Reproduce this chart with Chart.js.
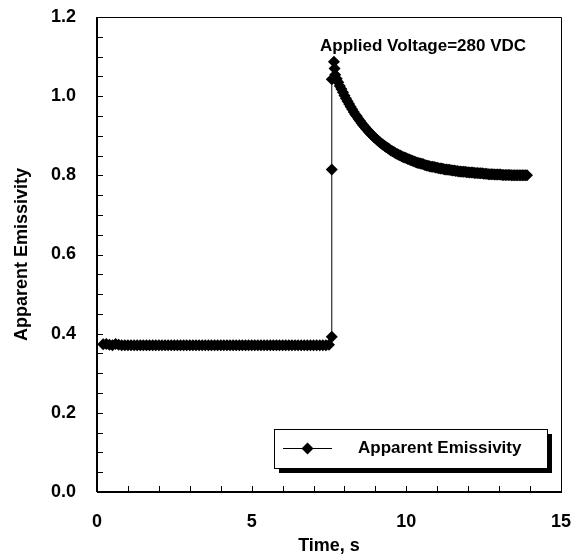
<!DOCTYPE html>
<html>
<head>
<meta charset="utf-8">
<script src="https://cdn.jsdelivr.net/npm/chart.js@4/dist/chart.umd.min.js"></script>
<style>
html,body{margin:0;padding:0;background:#fff;}
#wrap{width:578px;height:556px;position:relative;}
</style>
</head>
<body>
<div id="wrap"><canvas id="c" width="578" height="556"></canvas></div>
<script>
// ---- data ----
const seriesLabel = "Apparent Emissivity";
const annotationText = "Applied Voltage=280 VDC";
const xTitle = "Time, s";
const yTitle = "Apparent Emissivity";
const xTickLabels = ["0", "5", "10", "15"];
const yTickLabels = ["0.0", "0.2", "0.4", "0.6", "0.8", "1.0", "1.2"];

// flat baseline part (0.1 s sampling)
const timeFlat = [
  0.2,0.3,0.4,0.5,0.6,0.7,0.8,0.9,1.0,1.1,1.2,1.3,1.4,1.5,1.6,1.7,1.8,1.9,2.0,
  2.1,2.2,2.3,2.4,2.5,2.6,2.7,2.8,2.9,3.0,3.1,3.2,3.3,3.4,3.5,3.6,3.7,3.8,3.9,4.0,
  4.1,4.2,4.3,4.4,4.5,4.6,4.7,4.8,4.9,5.0,5.1,5.2,5.3,5.4,5.5,5.6,5.7,5.8,5.9,6.0,
  6.1,6.2,6.3,6.4,6.5,6.6,6.7,6.8,6.9,7.0,7.1,7.2,7.3,7.4,7.5
];
const emisFlat = [
  0.373,0.374,0.372,0.371,0.374,0.372,0.371,0.371,0.371,0.371,0.371,0.371,0.371,0.371,0.371,0.371,0.371,0.371,0.371,
  0.371,0.371,0.371,0.371,0.371,0.371,0.371,0.371,0.371,0.371,0.371,0.371,0.371,0.371,0.371,0.371,0.371,0.371,0.371,0.371,
  0.371,0.371,0.371,0.371,0.371,0.371,0.371,0.371,0.371,0.371,0.371,0.371,0.371,0.371,0.371,0.371,0.371,0.371,0.371,0.371,
  0.371,0.371,0.371,0.371,0.371,0.371,0.371,0.371,0.371,0.371,0.371,0.371,0.371,0.371,0.372
];
// step jump when the voltage is applied
const timeJump = [7.59, 7.59, 7.59, 7.66, 7.68];
const emisJump = [0.392, 0.815, 1.043, 1.087, 1.070];
// relaxation part (0.05 s sampling)
const timeDecay = [
  7.70,7.75,7.80,7.85,7.90,7.95,8.00,8.05,8.10,8.15,8.20,8.25,8.30,8.35,8.40,8.45,8.50,8.55,8.60,8.65,
  8.70,8.75,8.80,8.85,8.90,8.95,9.00,9.05,9.10,9.15,9.20,9.25,9.30,9.35,9.40,9.45,9.50,9.55,9.60,9.65,
  9.70,9.75,9.80,9.85,9.90,9.95,10.00,10.05,10.10,10.15,10.20,10.25,10.30,10.35,10.40,10.45,10.50,10.55,10.60,10.65,
  10.70,10.75,10.80,10.85,10.90,10.95,11.00,11.05,11.10,11.15,11.20,11.25,11.30,11.35,11.40,11.45,11.50,11.55,11.60,11.65,
  11.70,11.75,11.80,11.85,11.90,11.95,12.00,12.05,12.10,12.15,12.20,12.25,12.30,12.35,12.40,12.45,12.50,12.55,12.60,12.65,
  12.70,12.75,12.80,12.85,12.90,12.95,13.00,13.05,13.10,13.15,13.20,13.25,13.30,13.35,13.40,13.45,13.50,13.55,13.60,13.65,
  13.70,13.75,13.80,13.85,13.90
];
const emisDecay = [
  1.054,1.044,1.035,1.026,1.018,1.010,1.002,0.994,0.987,0.980,0.973,0.967,0.960,0.954,0.949,0.943,0.938,0.932,0.927,0.923,
  0.918,0.914,0.909,0.905,0.901,0.897,0.894,0.890,0.887,0.883,0.880,0.877,0.874,0.871,0.869,0.866,0.863,0.861,0.859,0.856,
  0.854,0.852,0.850,0.848,0.846,0.845,0.843,0.841,0.840,0.838,0.837,0.835,0.834,0.832,0.831,0.830,0.829,0.828,0.826,0.825,
  0.824,0.823,0.822,0.822,0.821,0.820,0.819,0.818,0.817,0.817,0.816,0.815,0.815,0.814,0.814,0.813,0.812,0.812,0.811,0.811,
  0.810,0.810,0.809,0.809,0.809,0.808,0.808,0.807,0.807,0.807,0.806,0.806,0.806,0.805,0.805,0.805,0.804,0.804,0.804,0.803,
  0.803,0.803,0.803,0.802,0.802,0.802,0.802,0.802,0.801,0.801,0.801,0.801,0.801,0.801,0.800,0.800,0.800,0.800,0.800,0.800,
  0.800,0.800,0.800,0.800,0.800
];

const timeS = timeFlat.concat(timeJump, timeDecay);
const emissivity = emisFlat.concat(emisJump, emisDecay);
const points = timeS.map((t, i) => ({x: t, y: emissivity[i]}));
const FONT = "'Liberation Sans', Arial, sans-serif";

const framePlugin = {
  id: 'frame',
  afterDatasetsDraw(chart) {
    const ctx = chart.ctx;
    const a = chart.chartArea;
    const xs = chart.scales.x, ys = chart.scales.y;
    ctx.save();
    ctx.strokeStyle = '#000';
    ctx.lineWidth = 1;
    ctx.beginPath();
    ctx.rect(Math.round(a.left) + 0.5, Math.round(a.top) + 0.5, Math.round(a.right - a.left), Math.round(a.bottom - a.top));
    ctx.stroke();
    ctx.lineWidth = 2;
    ctx.beginPath();
    ctx.moveTo(a.left, Math.round(a.bottom));
    ctx.lineTo(a.right + 1, Math.round(a.bottom));
    ctx.moveTo(Math.round(a.left), a.top);
    ctx.lineTo(Math.round(a.left), a.bottom);
    ctx.stroke();
    ctx.lineWidth = 1;
    ctx.beginPath();
    xs.ticks.forEach(t => {
      const px = Math.round(xs.getPixelForValue(t.value)) + 0.5;
      ctx.moveTo(px, a.bottom);
      ctx.lineTo(px, a.bottom - 6);
    });
    ys.ticks.forEach(t => {
      const py = Math.round(ys.getPixelForValue(t.value)) + 0.5;
      ctx.moveTo(a.left, py);
      ctx.lineTo(a.left + 6, py);
    });
    ctx.stroke();

    ctx.fillStyle = '#000';
    ctx.font = "bold 17px " + FONT;
    ctx.textAlign = 'left';
    ctx.textBaseline = 'middle';
    ctx.fillText(annotationText, 320, 46);

    const lx = 274, ly = 429, lw = 273, lh = 39;
    ctx.fillStyle = '#000';
    ctx.fillRect(lx + 5, ly + 5, lw, lh);
    ctx.fillStyle = '#fff';
    ctx.fillRect(lx, ly, lw, lh);
    ctx.strokeStyle = '#000';
    ctx.lineWidth = 1;
    ctx.strokeRect(lx + 0.5, ly + 0.5, lw, lh);
    const cy = ly + lh / 2;
    ctx.beginPath();
    ctx.moveTo(283, cy);
    ctx.lineTo(332, cy);
    ctx.stroke();
    ctx.fillStyle = '#000';
    ctx.beginPath();
    const r = 6, cx = 307.5;
    ctx.moveTo(cx, cy - r); ctx.lineTo(cx + r, cy); ctx.lineTo(cx, cy + r); ctx.lineTo(cx - r, cy);
    ctx.closePath();
    ctx.fill();
    ctx.font = "bold 17px " + FONT;
    ctx.textBaseline = 'middle';
    ctx.fillText(chart.data.datasets[0].label, 358, cy);
    ctx.restore();
  }
};

new Chart(document.getElementById('c'), {
  type: 'scatter',
  data: {
    datasets: [{
      label: seriesLabel,
      data: points,
      showLine: true,
      borderColor: '#000',
      borderWidth: 1,
      backgroundColor: '#000',
      pointStyle: 'rectRot',
      pointRadius: 6,
      pointBorderWidth: 0,
      pointHoverRadius: 6,
      tension: 0
    }]
  },
  plugins: [framePlugin],
  options: {
    responsive: false,
    animation: false,
    events: [],
    layout: {padding: {left: 0, right: 17, top: 17, bottom: 0}},
    plugins: {legend: {display: false}, tooltip: {enabled: false}},
    scales: {
      x: {
        type: 'linear', min: 0, max: 15,
        afterFit(s) { s.height = 64; s.paddingLeft = 0; s.paddingRight = 0; },
        grid: {display: false, drawTicks: false},
        border: {display: false},
        ticks: {
          stepSize: 1, autoSkip: false, maxRotation: 0, color: '#000', padding: 19,
          font: {family: FONT, size: 18, weight: 'bold'},
          callback: v => (Math.round(v) % 5 === 0 ? xTickLabels[Math.round(v) / 5] : '')
        },
        title: {display: true, text: xTitle, color: '#000', padding: {top: 0, bottom: -1},
          font: {family: FONT, size: 18, weight: 'bold'}}
      },
      y: {
        type: 'linear', min: 0, max: 1.2,
        afterFit(s) { s.width = 97; s.paddingTop = 0; s.paddingBottom = 0; },
        grid: {display: false, drawTicks: false},
        border: {display: false},
        ticks: {
          stepSize: 0.05, autoSkip: false, color: '#000', padding: 21,
          font: {family: FONT, size: 18, weight: 'bold'},
          callback: v => { const k = Math.round(v * 100); return k % 20 === 0 ? yTickLabels[k / 20] : ''; }
        },
        title: {display: true, text: yTitle, color: '#000', padding: {top: 11, bottom: 0},
          font: {family: FONT, size: 18, weight: 'bold'}}
      }
    }
  }
});
</script>
</body>
</html>
